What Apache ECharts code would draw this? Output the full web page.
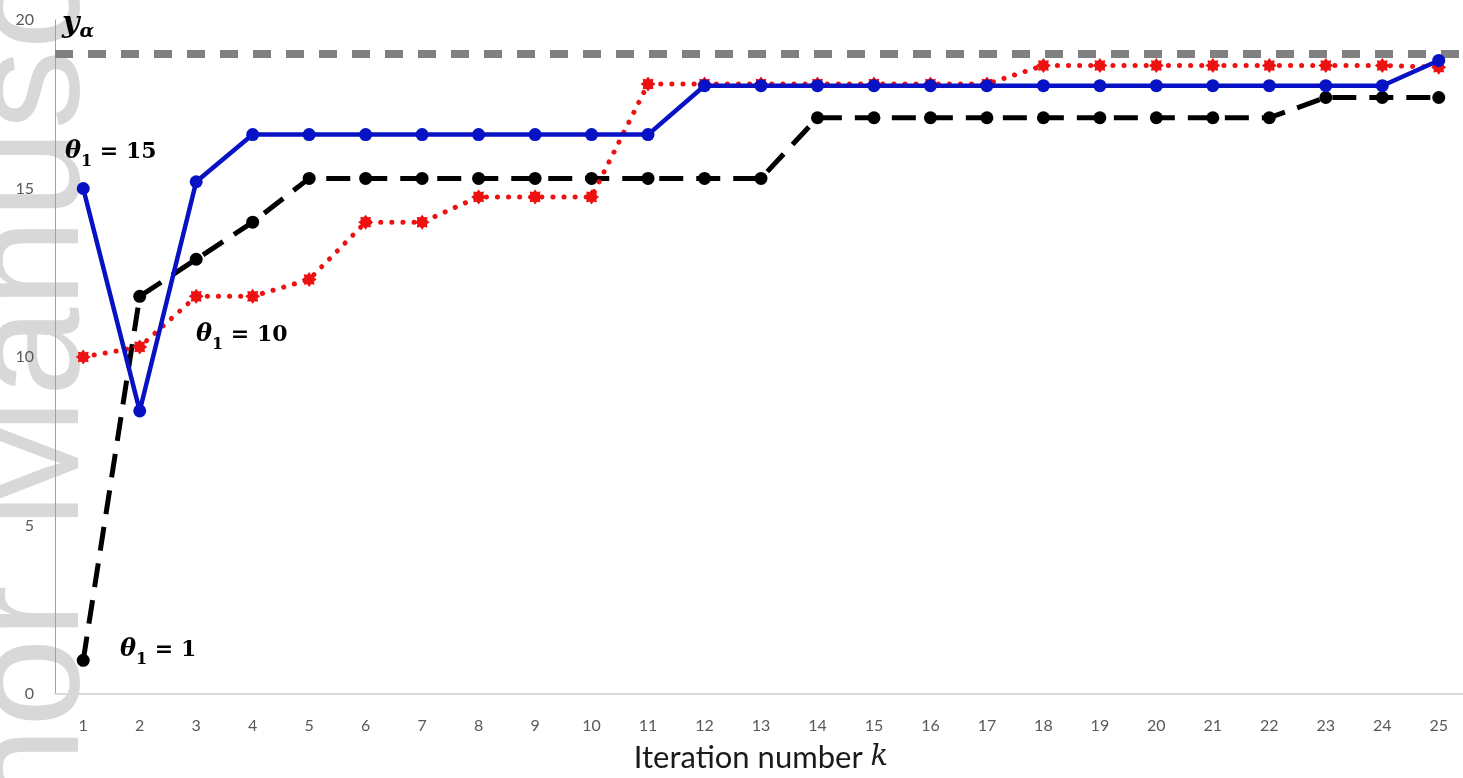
<!DOCTYPE html>
<html>
<head>
<meta charset="utf-8">
<script src="https://cdn.jsdelivr.net/npm/echarts@6/dist/echarts.min.js"></script>
<style>
html,body{margin:0;padding:0;background:#fff;overflow:hidden;}
#chart{width:1463px;height:778px;}
</style>
</head>
<body>
<div id="chart"></div>
<script>
var categories = ['1','2','3','4','5','6','7','8','9','10','11','12','13','14','15','16','17','18','19','20','21','22','23','24','25'];
var yTicks = [0, 5, 10, 15, 20];
var theta15 = [15.0, 8.4, 15.2, 16.6, 16.6, 16.6, 16.6, 16.6, 16.6, 16.6, 16.6, 18.05, 18.05, 18.05, 18.05, 18.05, 18.05, 18.05, 18.05, 18.05, 18.05, 18.05, 18.05, 18.05, 18.8];
var theta10 = [10.0, 10.3, 11.8, 11.8, 12.3, 14.0, 14.0, 14.75, 14.75, 14.75, 18.1, 18.1, 18.1, 18.1, 18.1, 18.1, 18.1, 18.65, 18.65, 18.65, 18.65, 18.65, 18.65, 18.65, 18.6];
var theta1 = [1.0, 11.8, 12.9, 14.0, 15.3, 15.3, 15.3, 15.3, 15.3, 15.3, 15.3, 15.3, 15.3, 17.1, 17.1, 17.1, 17.1, 17.1, 17.1, 17.1, 17.1, 17.1, 17.7, 17.7, 17.7];
var yAlpha = 19.0;

// 8-point burst marker for the red series
function burstPath() {
  var pts = [];
  for (var i = 0; i < 16; i++) {
    var r = (i % 2 === 0) ? 10 : 7;
    var a = Math.PI * 2 * i / 16;
    pts.push((i === 0 ? 'M' : 'L') + (r * Math.cos(a)).toFixed(2) + ',' + (r * Math.sin(a)).toFixed(2));
  }
  return 'path://' + pts.join(' ') + ' Z';
}

var serifB = 'DejaVu Serif';
function thetaRich() {
  return {
    th: {fontFamily: serifB, fontStyle: 'italic', fontWeight: 'bold', fontSize: 24, lineHeight: 36, color: '#111'},
    sub: {fontFamily: serifB, fontWeight: 'bold', fontSize: 16, lineHeight: 36, verticalAlign: 'bottom', color: '#111'},
    eq: {fontFamily: serifB, fontWeight: 'bold', fontSize: 22, lineHeight: 36, color: '#111'}
  };
}

var chart = echarts.init(document.getElementById('chart'));
var option = {
  animation: false,
  backgroundColor: '#ffffff',
  grid: {left: 55, top: 20, width: 1412, height: 674, outerBoundsMode: 'none', containLabel: false},
  xAxis: {
    type: 'category',
    data: categories,
    boundaryGap: true,
    axisLine: {show: true, lineStyle: {color: '#d9d9d9', width: 2}},
    axisTick: {show: false},
    axisLabel: {color: '#595959', fontSize: 16, fontFamily: 'Lato', margin: 24},
    splitLine: {show: false},
    name: '{a|Iteration number }{k|k}',
    nameLocation: 'middle',
    nameGap: 48,
    nameTextStyle: {
      rich: {
        a: {fontFamily: 'Lato', fontSize: 31, color: '#1a1a1a'},
        k: {fontFamily: serifB, fontStyle: 'italic', fontSize: 29, color: '#1a1a1a'}
      }
    }
  },
  yAxis: {
    type: 'value',
    min: yTicks[0],
    max: yTicks[yTicks.length - 1],
    interval: yTicks[1] - yTicks[0],
    axisLine: {show: true, lineStyle: {color: '#a0a0a0', width: 1}},
    axisTick: {show: false},
    axisLabel: {color: '#595959', fontSize: 16, fontFamily: 'Lato', margin: 21},
    splitLine: {show: false}
  },
  graphic: [
    {type: 'text', z: -10, x: 34, y: 530, rotation: Math.PI / 2,
     style: {text: 'Manuscript', font: '160px "Liberation Sans"', fill: '#d8d8d8', align: 'left', verticalAlign: 'middle'}},
    {type: 'text', z: -10, x: 34, y: 585, rotation: Math.PI / 2,
     style: {text: 'Author', font: '160px "Liberation Sans"', fill: '#d8d8d8', align: 'right', verticalAlign: 'middle'}},
    {type: 'text', z: 50, x: 62, y: 24,
     style: {text: '{y|y}{s|α}', align: 'left', verticalAlign: 'middle',
       rich: {
         y: {fontFamily: serifB, fontStyle: 'italic', fontWeight: 'bold', fontSize: 30, lineHeight: 36, color: '#111'},
         s: {fontFamily: serifB, fontStyle: 'italic', fontWeight: 'bold', fontSize: 19, lineHeight: 36, verticalAlign: 'bottom', color: '#111'}
       }}},
    {type: 'text', z: 50, x: 65, y: 152,
     style: {text: '{th|θ}{sub|1}{eq| = 15}', align: 'left', verticalAlign: 'middle', rich: thetaRich()}},
    {type: 'text', z: 50, x: 196, y: 335,
     style: {text: '{th|θ}{sub|1}{eq| = 10}', align: 'left', verticalAlign: 'middle', rich: thetaRich()}},
    {type: 'text', z: 50, x: 120, y: 650,
     style: {text: '{th|θ}{sub|1}{eq| = 1}', align: 'left', verticalAlign: 'middle', rich: thetaRich()}}
  ],
  series: [
    {
      name: 'y_alpha',
      type: 'line',
      data: [],
      z: 1,
      markLine: {
        silent: true,
        symbol: ['none', 'none'],
        label: {show: false},
        lineStyle: {color: '#808080', width: 8, type: [18, 15]},
        data: [{yAxis: yAlpha}]
      }
    },
    {
      name: 'theta1=1',
      type: 'line',
      data: theta1,
      z: 3,
      symbol: 'circle',
      symbolSize: 13,
      itemStyle: {color: '#000000'},
      lineStyle: {color: '#000000', width: 5, type: [24, 13]}
    },
    {
      name: 'theta1=10',
      type: 'line',
      data: theta10,
      z: 4,
      symbol: burstPath(),
      symbolSize: 15,
      itemStyle: {color: '#ee1111'},
      lineStyle: {color: '#ee1111', width: 5, type: [0.1, 11], cap: 'round'}
    },
    {
      name: 'theta1=15',
      type: 'line',
      data: theta15,
      z: 5,
      symbol: 'circle',
      symbolSize: 13,
      itemStyle: {color: '#0612c4'},
      lineStyle: {color: '#0612c4', width: 4.5}
    }
  ]
};
chart.setOption(option);
</script>
</body>
</html>
